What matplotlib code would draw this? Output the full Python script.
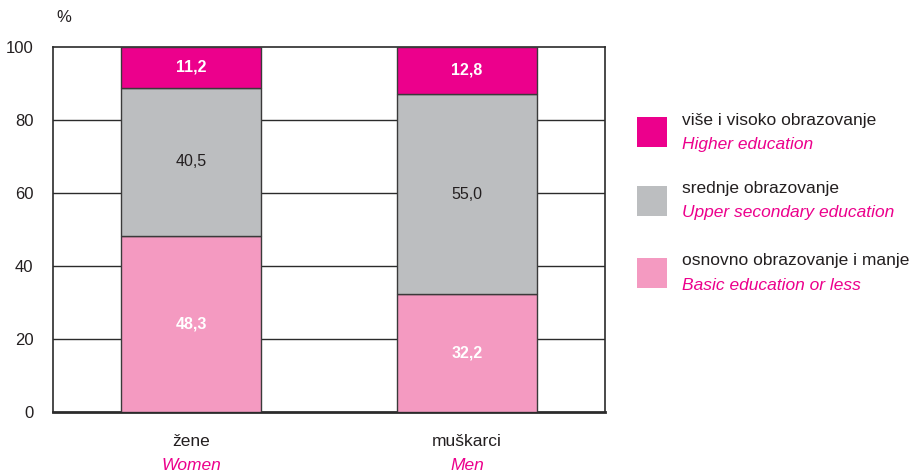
import matplotlib.pyplot as plt
import numpy as np
from matplotlib.patches import Rectangle

plt.rcParams['font.family'] = ['Liberation Sans', 'DejaVu Sans']

kategorije = ["žene", "muškarci"]
kategorije_en = ["Women", "Men"]
osnovno = [48.3, 32.2]
srednje = [40.5, 55.0]
visoko = [11.2, 12.8]

serije_sr = ["više i visoko obrazovanje", "srednje obrazovanje", "osnovno obrazovanje i manje"]
serije_en = ["Higher education", "Upper secondary education", "Basic education or less"]

c_visoko = '#EC008C'
c_srednje = '#BCBEC0'
c_osnovno = '#F49AC1'
tekst = '#231F20'

fig = plt.figure(figsize=(9.12, 4.74), dpi=100)
ax = fig.add_axes([53/912, 62/474, 552/912, 365/474])

x = np.arange(len(kategorije))
w = 0.51
ivica = dict(edgecolor='#3a3a3a', linewidth=1.0, zorder=3)

ax.bar(x, osnovno, w, color=c_osnovno, **ivica)
ax.bar(x, srednje, w, bottom=osnovno, color=c_srednje, **ivica)
dno = np.array(osnovno) + np.array(srednje)
ax.bar(x, visoko, w, bottom=dno, color=c_visoko, **ivica)

for i in range(len(x)):
    ax.text(x[i], osnovno[i] / 2, f"{osnovno[i]:.1f}".replace('.', ','), ha='center', va='center',
            color='white', fontweight='bold', fontsize=11.5, zorder=4)
    ax.text(x[i], osnovno[i] + srednje[i] / 2, f"{srednje[i]:.1f}".replace('.', ','), ha='center',
            va='center', color=tekst, fontsize=11.5, zorder=4)
    ax.text(x[i], dno[i] + visoko[i] / 2, f"{visoko[i]:.1f}".replace('.', ','), ha='center',
            va='center', color='white', fontweight='bold', fontsize=11.5, zorder=4)

ax.set_xlim(-0.5, 1.5)
ax.set_ylim(0, 100)
ax.set_yticks([0, 20, 40, 60, 80, 100])
ax.tick_params(axis='y', length=0, labelsize=12, labelcolor=tekst, pad=14)
ax.set_xticks([])
for y in [20, 40, 60, 80]:
    ax.axhline(y, color='#2b2b2b', linewidth=1.0, zorder=1)
for s in ax.spines.values():
    s.set_color('#2b2b2b')
    s.set_linewidth(1.2)
ax.spines['bottom'].set_linewidth(2)

fig.text(64/912, 1 - 18/474, "%", ha='center', va='center', fontsize=12, color=tekst)

for i in range(len(x)):
    ax.annotate(kategorije[i], xy=(x[i], 0), xycoords='data', xytext=(0, -30),
                textcoords='offset pixels', ha='center', va='center', fontsize=12.5, color=tekst,
                annotation_clip=False)
    ax.annotate(kategorije_en[i], xy=(x[i], 0), xycoords='data', xytext=(0, -53),
                textcoords='offset pixels', ha='center', va='center', fontsize=12.5, color=c_visoko,
                style='italic', annotation_clip=False)

boje = [c_visoko, c_srednje, c_osnovno]
y_pos = [117, 186, 258]
for i in range(3):
    fig.patches.append(Rectangle((637/912, 1 - (y_pos[i] + 30)/474), 30/912, 30/474,
                                 transform=fig.transFigure, facecolor=boje[i], edgecolor='none'))
    fig.text(682/912, 1 - (y_pos[i] + 3)/474, serije_sr[i], ha='left', va='center',
             fontsize=12.5, color=tekst)
    fig.text(682/912, 1 - (y_pos[i] + 27)/474, serije_en[i], ha='left', va='center',
             fontsize=12.5, color=c_visoko, style='italic')

plt.savefig('out.png', dpi=100)
